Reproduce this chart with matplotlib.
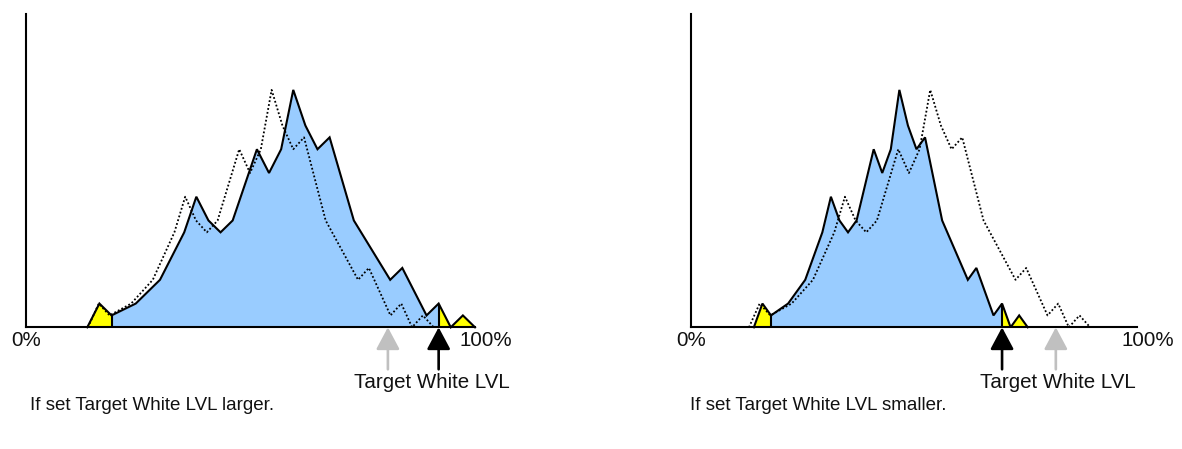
import matplotlib
matplotlib.use("Agg")
import matplotlib.pyplot as plt
import numpy as np

plt.rcParams['font.family'] = ['Liberation Sans', 'DejaVu Sans']

# Histogram outline: bin index -> pixel count (arbitrary units)
bins = [0, 1, 2, 4, 6, 8, 9, 10, 11, 12, 14, 15, 16, 17, 18, 19, 20, 22, 25, 26, 28, 29, 30, 31, 32]
counts = [0, 2, 1, 2, 4, 8, 11, 9, 8, 9, 15, 13, 15, 20, 17, 15, 16, 9, 4, 5, 1, 2, 0, 1, 0]
n_bins = 32
clip_low_bin, clip_high_bin = 2, 29

# Level range (%) spanned by bins 0..n_bins before / after the white-level change
larger_before = (13.8, 90.8)
larger_after = (13.65, 100.0)
larger_old_target = 80.6

smaller_before = (13.0, 89.5)
smaller_after = (14.1, 75.5)
smaller_old_target = 81.8

axis_labels = ["0%", "100%"]
marker_label = "Target White LVL"
captions = ["If set Target White LVL larger.", "If set Target White LVL smaller."]

BLUE = "#99CCFF"
YELLOW = "#FFFF00"
GREY = "#C0C0C0"
INK = "#111111"

W, H = 1182, 449
fig = plt.figure(figsize=(W / 100, H / 100), dpi=100)

unit_px = 11.87          # pixels per count unit
base_px = 327.3          # baseline, from top
top_px = 14.0            # top of y axis, from top
ymax = (base_px - top_px) / unit_px


def to_level(b, rng):
    lo, hi = rng
    return lo + np.asarray(b, float) * (hi - lo) / n_bins


def draw_panel(left_px, width_px, before, after, old_target, label_x):
    ax = fig.add_axes([left_px / W, (H - base_px) / H, width_px / W, (base_px - top_px) / H])
    ax.set_xlim(0, 100)
    ax.set_ylim(0, ymax)
    ax.set_xticks([])
    ax.set_yticks([])
    for s in ("top", "right"):
        ax.spines[s].set_visible(False)
    for s in ("left", "bottom"):
        ax.spines[s].set_linewidth(1.5)
        ax.spines[s].set_zorder(5)
    ax.patch.set_alpha(0)

    b = np.array(bins)
    c = np.array(counts, float)
    xs = to_level(b, after)
    xd = to_level(b, before)

    low = b <= clip_low_bin
    mid = (b >= clip_low_bin) & (b <= clip_high_bin)
    high = b >= clip_high_bin
    ax.fill_between(xs[mid], c[mid], 0, color=BLUE, lw=0, zorder=1, clip_on=False)
    ax.fill_between(xs[low], c[low], 0, color=YELLOW, lw=0, zorder=1, clip_on=False)
    ax.fill_between(xs[high], c[high], 0, color=YELLOW, lw=0, zorder=1, clip_on=False)

    ax.plot(xd, c, color="black", lw=1.3, ls=(0, (1, 1.2)), zorder=3, clip_on=False)
    ax.plot(xs, c, color="black", lw=1.5, zorder=4, clip_on=False, solid_joinstyle="miter")

    edges = [clip_low_bin, clip_high_bin]
    ax.vlines(to_level(edges, after), 0, np.interp(edges, b, c), color="black", lw=1.5, zorder=4)

    new_target = to_level(clip_high_bin, after)
    tail = -42 / unit_px
    for xpos, col in ((old_target, GREY), (new_target, "black")):
        ax.annotate("", xy=(xpos, 0), xytext=(xpos, tail),
                    arrowprops=dict(arrowstyle="-|>,head_length=13.5,head_width=7.2",
                                    mutation_scale=1, color=col, lw=1.9,
                                    shrinkA=0, shrinkB=0),
                    annotation_clip=False, zorder=2)

    ax.text(0, -12.7 / unit_px, axis_labels[0], ha="center", va="center", fontsize=14.8,
            color=INK, clip_on=False)
    ax.text(96.6, -12.7 / unit_px, axis_labels[1], ha="left", va="center", fontsize=14.8,
            color=INK, clip_on=False)
    ax.text(label_x, -(382 - base_px) / unit_px, marker_label, ha="center", va="center",
            fontsize=14.8, color=INK, clip_on=False)
    return ax


draw_panel(26, 449, larger_before, larger_after, larger_old_target, 90.4)
draw_panel(691, 446, smaller_before, smaller_after, smaller_old_target, 82.3)

fig.text(30 / W, 1 - 405 / H, captions[0], ha="left", va="center", fontsize=13.5, color=INK)
fig.text(690 / W, 1 - 405 / H, captions[1], ha="left", va="center", fontsize=13.5, color=INK)

fig.savefig("out.png", dpi=100, facecolor="white")
